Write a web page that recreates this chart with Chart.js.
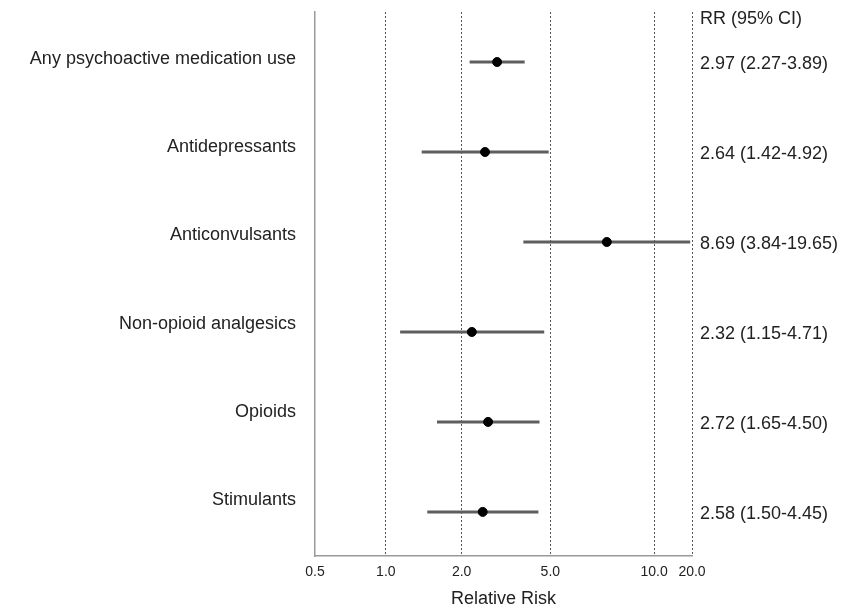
<!DOCTYPE html>
<html>
<head>
<meta charset="utf-8">
<title>Psychoactive medication use - relative risk</title>
<script src="https://cdn.jsdelivr.net/npm/chart.js@4.4.1/dist/chart.umd.min.js"></script>
<style>
  html, body { margin: 0; padding: 0; background: #fff; }
</style>
</head>
<body>
<canvas id="chart" width="845" height="610"></canvas>
<script>
// forest plot data
const categories = ['Any psychoactive medication use', 'Antidepressants', 'Anticonvulsants', 'Non-opioid analgesics', 'Opioids', 'Stimulants'];
const rr = [2.97, 2.64, 8.69, 2.32, 2.72, 2.58];
const lower = [2.27, 1.42, 3.84, 1.15, 1.65, 1.50];
const upper = [3.89, 4.92, 19.65, 4.71, 4.50, 4.45];

const rrHeader = 'RR (95% CI)';
const tickLabels = ['0.5', '1.0', '2.0', '5.0', '10.0', '20.0'];
// where the reference puts its dotted lines on the risk axis
const gridValues = [0.5, 1, 2.1, 5, 13.8, 20];

const rrLabels = rr.map((v, i) => `${v.toFixed(2)} (${lower[i].toFixed(2)}-${upper[i].toFixed(2)})`);

Chart.defaults.font.family = '"Liberation Sans", Arial, sans-serif';
Chart.defaults.color = '#222';

const ciSets = categories.map((c, i) => ({
    type: 'line',
    label: c + ' 95% CI',
    data: [{ x: lower[i], y: i }, { x: upper[i], y: i }],
    borderColor: '#5e5e5e',
    borderWidth: 3,
    pointRadius: 0,
    yAxisID: 'rows',
    order: 2
}));

// fixed plot box: top at 12px, no extra room for label overflow
const fixVertical = width => s => {
    s.width = width;
    s.paddingTop = 12;
    s.paddingBottom = 0;
};

const ctx = document.getElementById('chart').getContext('2d');
new Chart(ctx, {
    type: 'scatter',
    data: {
        datasets: [
            {
                label: 'RR',
                data: rr.map((v, i) => ({ x: v, y: i })),
                backgroundColor: '#000',
                borderColor: '#000',
                pointRadius: 4.5,
                yAxisID: 'rows',
                order: 1
            },
            ...ciSets
        ]
    },
    options: {
        responsive: false,
        animation: false,
        events: [],
        layout: { padding: 0 },
        plugins: {
            legend: { display: false },
            tooltip: { enabled: false }
        },
        scales: {
            x: {
                type: 'logarithmic',
                min: 0.5,
                max: 20,
                afterBuildTicks: s => { s.ticks = gridValues.map(v => ({ value: v })); },
                afterFit: s => { s.height = 54; },
                ticks: {
                    callback: (v, i) => tickLabels[i],
                    font: { size: 14 },
                    color: '#222',
                    padding: 8,
                    autoSkip: false,
                    maxRotation: 0
                },
                grid: {
                    color: c => c.index === 0 ? 'rgba(0,0,0,0)' : '#555',
                    lineWidth: 1,
                    drawTicks: false
                },
                border: { color: '#9a9a9a', width: 1.5, dash: [2, 2] },
                title: {
                    display: true,
                    text: 'Relative Risk',
                    font: { size: 18 },
                    color: '#222',
                    padding: { top: 4, bottom: 0 }
                }
            },
            y: {
                type: 'linear',
                position: 'left',
                reverse: true,
                min: -0.533,
                max: 5.635,
                afterBuildTicks: s => { s.ticks = categories.map((c, i) => ({ value: i })); },
                afterFit: fixVertical(315),
                ticks: {
                    callback: v => categories[v],
                    font: { size: 18 },
                    color: '#222',
                    padding: 19,
                    autoSkip: false
                },
                grid: { display: false, drawTicks: false },
                border: { color: '#9a9a9a', width: 1.5 }
            },
            rows: {
                type: 'linear',
                position: 'right',
                reverse: true,
                min: -0.556,
                max: 5.49,
                afterBuildTicks: s => { s.ticks = [-0.5, ...categories.map((c, i) => i)].map(v => ({ value: v })); },
                afterFit: fixVertical(153),
                ticks: {
                    callback: v => v < 0 ? rrHeader : rrLabels[v],
                    font: { size: 18 },
                    color: '#222',
                    padding: 8,
                    labelOffset: 2,
                    autoSkip: false
                },
                grid: { display: false, drawTicks: false },
                border: { display: false }
            }
        }
    }
});
</script>
</body>
</html>
